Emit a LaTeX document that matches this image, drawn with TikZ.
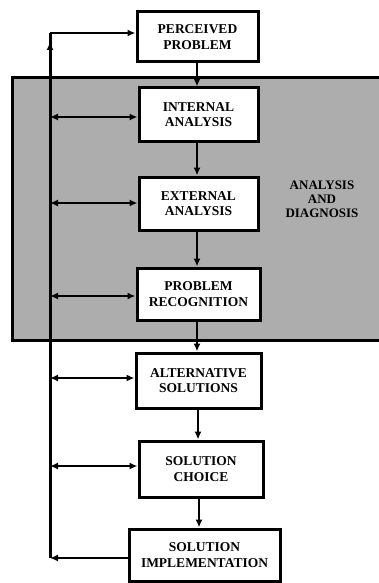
\documentclass[tikz,border=0pt]{standalone}
\usepackage{fontspec}
\setmainfont{Liberation Serif}
\usetikzlibrary{arrows.meta}
\begin{document}
\begin{tikzpicture}[x=1pt,y=-1pt,
  box/.style={draw, line width=3pt, fill=white, align=center, inner sep=0pt,
    font=\fontsize{13.5}{15.5}\selectfont\bfseries},
  flow/.style={line width=2.6pt, -{Latex[length=8pt,width=7pt]}},
  both/.style={line width=2.6pt, {Latex[length=8pt,width=7pt]}-{Latex[length=8pt,width=7pt]}},
  fb/.style={line width=3pt}]
\useasboundingbox (0,0) rectangle (379,583);
% shaded region
\fill[black!32] (12,78) rectangle (379,340);
\draw[line width=3pt] (379,78) -- (12,78) -- (12,340) -- (379,340);
\node[font=\fontsize{13}{14}\selectfont\bfseries, align=center] (ad) at (322,199) {ANALYSIS\\AND\\DIAGNOSIS};
% boxes
\node[box, minimum width=121, minimum height=50] (pp) at (197.5,37) {PERCEIVED\\PROBLEM};
\node[box, minimum width=119, minimum height=53] (ia) at (198.5,114.5) {INTERNAL\\ANALYSIS};
\node[box, minimum width=119, minimum height=53] (ea) at (198.5,203.5) {EXTERNAL\\ANALYSIS};
\node[box, minimum width=123, minimum height=52] (pr) at (198.5,294) {PROBLEM\\RECOGNITION};
\node[box, minimum width=125, minimum height=55] (as) at (198.5,380.5) {ALTERNATIVE\\SOLUTIONS};
\node[box, minimum width=124, minimum height=56] (sc) at (201,469) {SOLUTION\\CHOICE};
\node[box, minimum width=151, minimum height=52] (si) at (204.5,555) {SOLUTION\\IMPLEMENTATION};
% coordinates on feedback line
\coordinate (ftop) at (50,33);
\coordinate (fbot) at (50,558);
\coordinate (fia) at (50,117);
\coordinate (fea) at (50,203);
\coordinate (fpr) at (50,296);
\coordinate (fas) at (50,378);
\coordinate (fsc) at (50,466);
\coordinate (fup) at (50,42);
% main flow
\draw[flow] (pp.south -| 197,0) -- (ia.north -| 197,0);
\draw[flow] (ia.south -| 197,0) -- (ea.north -| 197,0);
\draw[flow] (ea.south -| 197,0) -- (pr.north -| 197,0);
\draw[flow] (pr.south -| 197,0) -- (as.north -| 197,0);
\draw[flow] (as.south -| 198,0) -- (sc.north -| 198,0);
\draw[flow] (sc.south -| 199,0) -- (si.north -| 199,0);
% feedback
\draw[fb] (fbot) -- (ftop);
\draw[flow] (fbot |- 0,70) -- (fup);
\draw[flow] (ftop) -- (pp.west |- ftop);
\draw[flow] (si.west |- fbot) -- (fbot);
\draw[both] (fia) -- (ia.west |- fia);
\draw[both] (fea) -- (ea.west |- fea);
\draw[both] (fpr) -- (pr.west |- fpr);
\draw[both] (fas) -- (as.west |- fas);
\draw[both] (fsc) -- (sc.west |- fsc);
\end{tikzpicture}
\end{document}
